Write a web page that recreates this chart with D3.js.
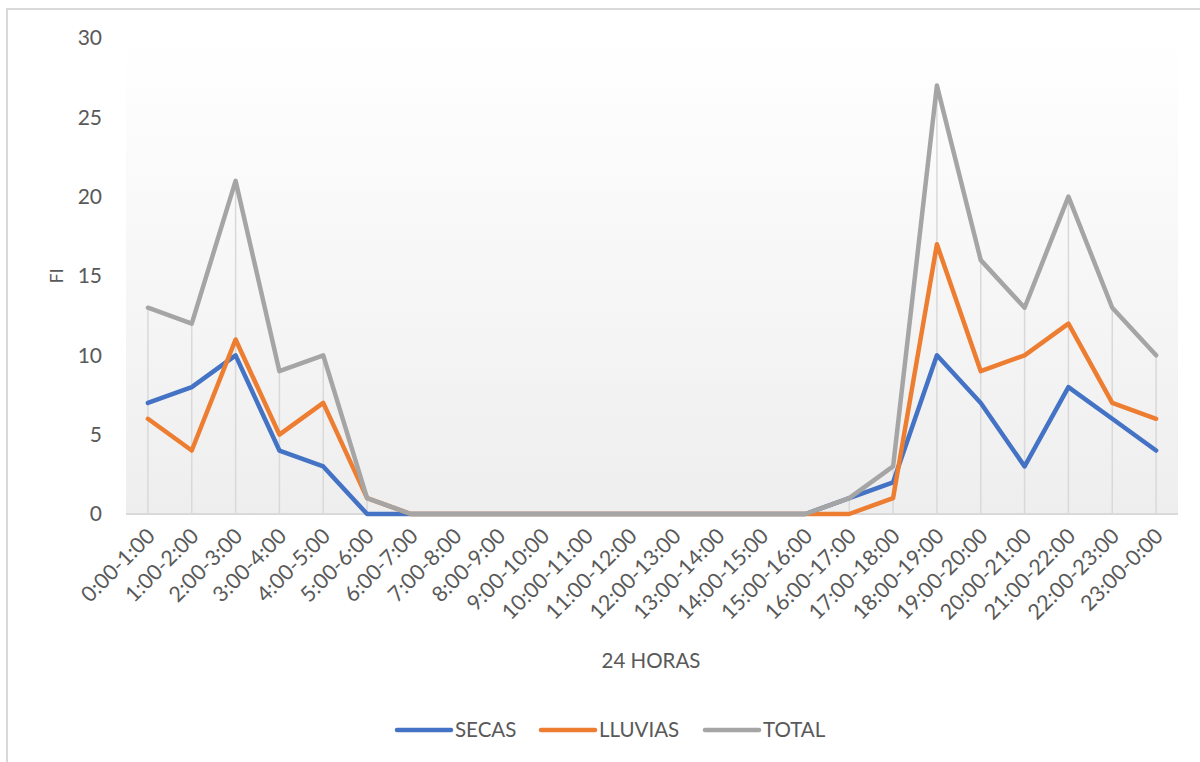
<!DOCTYPE html>
<html>
<head>
<meta charset="utf-8">
<script src="https://cdn.jsdelivr.net/npm/d3@7"></script>
<style>
  body { margin: 0; background: #fff; }
  text { font-family: Lato, "Open Sans", sans-serif; fill: #595959; }
</style>
</head>
<body>
<script>
// Data
const horas = ["0:00-1:00","1:00-2:00","2:00-3:00","3:00-4:00","4:00-5:00","5:00-6:00",
  "6:00-7:00","7:00-8:00","8:00-9:00","9:00-10:00","10:00-11:00","11:00-12:00",
  "12:00-13:00","13:00-14:00","14:00-15:00","15:00-16:00","16:00-17:00","17:00-18:00",
  "18:00-19:00","19:00-20:00","20:00-21:00","21:00-22:00","22:00-23:00","23:00-0:00"];
const secas   = [7,8,10,4,3,0,0,0,0,0,0,0,0,0,0,0,1,2,10,7,3,8,6,4];
const lluvias = [6,4,11,5,7,1,0,0,0,0,0,0,0,0,0,0,0,1,17,9,10,12,7,6];
const total   = [13,12,21,9,10,1,0,0,0,0,0,0,0,0,0,0,1,3,27,16,13,20,13,10];
const yTicks  = [0,5,10,15,20,25,30];

const series = [
  {name: "SECAS", values: secas, color: "#4472c4"},
  {name: "LLUVIAS", values: lluvias, color: "#ed7d31"},
  {name: "TOTAL", values: total, color: "#a5a5a5"}
];

const W = 1200, H = 762;
const plot = {left: 126, right: 1178, top: 38, bottom: 514};

const svg = d3.select("body").append("svg")
    .attr("width", W)
    .attr("height", H);

// outer chart border (clipped at right/bottom in the picture)
svg.append("path")
    .attr("d", "M7,762 L7,9 L1200,9")
    .attr("fill", "none")
    .attr("stroke", "#d9d9d9")
    .attr("stroke-width", 2);

// gradient plot background
const grad = svg.append("defs").append("linearGradient")
    .attr("id", "bg").attr("x1", 0).attr("y1", 0).attr("x2", 0).attr("y2", 1);
grad.append("stop").attr("offset", "0%").attr("stop-color", "#ffffff");
grad.append("stop").attr("offset", "100%").attr("stop-color", "#eeeeee");

svg.append("rect")
    .attr("x", plot.left).attr("y", plot.top)
    .attr("width", plot.right - plot.left)
    .attr("height", plot.bottom - plot.top)
    .attr("fill", "url(#bg)");

// scales
const x = d3.scalePoint()
    .domain(horas)
    .range([plot.left, plot.right])
    .padding(0.5);
const y = d3.scaleLinear()
    .domain([0, 30])
    .range([plot.bottom, plot.top]);

// drop lines up to the highest series
svg.append("g").selectAll("line")
    .data(horas)
    .join("line")
    .attr("x1", d => x(d)).attr("x2", d => x(d))
    .attr("y1", y(0))
    .attr("y2", (d, i) => y(d3.max(series, s => s.values[i])))
    .attr("stroke", "#d9d9d9")
    .attr("stroke-width", 1.5);

// x axis baseline
svg.append("line")
    .attr("x1", plot.left).attr("x2", plot.right)
    .attr("y1", y(0)).attr("y2", y(0))
    .attr("stroke", "#d9d9d9")
    .attr("stroke-width", 2);

// y tick labels
svg.append("g").selectAll("text")
    .data(yTicks)
    .join("text")
    .attr("x", 102)
    .attr("y", d => y(d))
    .attr("dy", "0.35em")
    .attr("text-anchor", "end")
    .style("font-size", "21px")
    .text(d => d);

// x tick labels, rotated
svg.append("g").selectAll("text")
    .data(horas)
    .join("text")
    .attr("transform", d => "translate(" + (x(d) + 3) + "," + 532 + ") rotate(-45)")
    .attr("dy", "0.35em")
    .attr("text-anchor", "end")
    .style("font-size", "21.5px")
    .text(d => d);

// lines
const line = d3.line()
    .x((d, i) => x(horas[i]))
    .y(d => y(d));

svg.append("g").selectAll("path")
    .data(series)
    .join("path")
    .attr("d", d => line(d.values))
    .attr("fill", "none")
    .attr("stroke", d => d.color)
    .attr("stroke-width", 4.5)
    .attr("stroke-linejoin", "round")
    .attr("stroke-linecap", "round");

// axis titles
svg.append("text")
    .attr("x", 651).attr("y", 661)
    .attr("dy", "0.35em")
    .attr("text-anchor", "middle")
    .style("font-size", "20.5px")
    .text("24 HORAS");

svg.append("text")
    .attr("transform", "translate(57,276) rotate(-90)")
    .attr("dy", "0.35em")
    .attr("text-anchor", "middle")
    .style("font-size", "18px")
    .text("FI");

// legend
const legendX = [397, 541, 705];
const legend = svg.append("g").selectAll("g")
    .data(series)
    .join("g")
    .attr("transform", (d, i) => "translate(" + legendX[i] + ",730)");
legend.append("line")
    .attr("x1", 0).attr("x2", 54)
    .attr("stroke", d => d.color)
    .attr("stroke-width", 4.5)
    .attr("stroke-linecap", "round");
legend.append("text")
    .attr("x", 58)
    .attr("dy", "0.35em")
    .style("font-size", "20.5px")
    .text(d => d.name);
</script>
</body>
</html>
